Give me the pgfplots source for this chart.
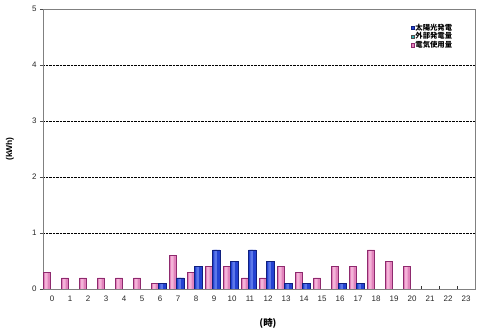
\documentclass[border=0pt]{standalone}
\usepackage{fontspec}
\setmainfont{Liberation Sans}
\newfontfamily\jp{Noto Sans CJK JP}
\usepackage{pgfplots}
\pgfplotsset{compat=1.18}
\definecolor{sunblue}{HTML}{2443D2}
\definecolor{sunblueL}{HTML}{5C78EA}
\definecolor{sunblueD}{HTML}{10207E}
\definecolor{pinkbar}{HTML}{E283BC}
\definecolor{pinkL}{HTML}{F4B3D8}
\definecolor{pinkD}{HTML}{8E2A6E}
\definecolor{tealc}{HTML}{30B0B0}
\pgfplotstableread{
x y
0 0.3
1 0.2
2 0.2
3 0.2
4 0.2
5 0.2
6 0.1
7 0.6
8 0.3
9 0.4
10 0.4
11 0.2
12 0.2
13 0.4
14 0.3
15 0.2
16 0.4
17 0.4
18 0.7
19 0.5
20 0.4
}\usage
\pgfplotstableread{
x y
6 0.1
7 0.2
8 0.4
9 0.7
10 0.5
11 0.7
12 0.5
13 0.1
14 0.1
16 0.1
17 0.1
}\solar
\begin{document}
\begin{tikzpicture}
\begin{axis}[
  scale only axis, width=432bp, height=280bp,
  xmin=-0.5, xmax=23.5, ymin=0, ymax=5,
  xtick={0,...,23}, ytick={0,...,5},
  minor xtick={-0.5,0.5,...,23.5},
  major x tick style={draw=none},
  minor x tick style={yshift=2.5bp, black!80},
  minor tick length=2.5bp,
  major tick length=3bp,
  tick align=outside, tick pos=left,
  y tick style={black!70},
  axis line style={gray, line width=0.6pt},
  ymajorgrids, grid style={densely dotted, black, line width=0.4pt},
  tick label style={font=\fontsize{8}{9}\selectfont, text=black!85},
  /pgf/number format/assume math mode=true,
  xlabel={\jp\bfseries (時)},
  ylabel={\bfseries (kWh)},
  every axis x label/.style={at={(rel axis cs:0.5,0)}, yshift=-34bp, xshift=9bp, anchor=center, font=\fontsize{9.5}{11}\selectfont},
  every axis y label/.style={at={(rel axis cs:0,0.5)}, xshift=-33bp, rotate=90, anchor=center, font=\fontsize{8.5}{10}\selectfont},
  legend style={at={(0.957,0.958)}, anchor=north east, draw=none, fill=none,
    font=\jp\bfseries\fontsize{7.4}{8}\selectfont, row sep=-1.2bp,
    nodes={inner sep=1bp}},
  legend cell align=left,
]
\addlegendimage{legend image code/.code={\draw[draw=sunblueD, fill=sunblue, line width=0.3pt] (1bp,-1.7bp) rectangle (4.4bp,1.7bp);}}
\addlegendentry{太陽光発電}
\addlegendimage{legend image code/.code={\draw[draw=black!70, fill=tealc, line width=0.3pt] (1bp,-1.7bp) rectangle (4.4bp,1.7bp);}}
\addlegendentry{外部発電量}
\addlegendimage{legend image code/.code={\draw[draw=pinkD, fill=pinkbar, line width=0.3pt] (1bp,-1.7bp) rectangle (4.4bp,1.7bp);}}
\addlegendentry{電気使用量}
% 電気使用量 (pink)
\addplot[forget plot, ybar, bar width=7.2bp, bar shift=-5bp, draw=none, fill=pinkbar] table {\usage};
\addplot[forget plot, ybar, bar width=2.6bp, bar shift=-5.6bp, draw=none, fill=pinkL] table {\usage};
\addplot[forget plot, ybar, bar width=7.2bp, bar shift=-5bp, draw=pinkD, line width=0.5pt, fill=none] table {\usage};
% 太陽光発電 (blue)
\addplot[forget plot, ybar, bar width=7.2bp, bar shift=2.2bp, draw=none, fill=sunblue] table {\solar};
\addplot[forget plot, ybar, bar width=2.4bp, bar shift=1.6bp, draw=none, fill=sunblueL] table {\solar};
\addplot[forget plot, ybar, bar width=7.2bp, bar shift=2.2bp, draw=sunblueD, line width=0.5pt, fill=none] table {\solar};
\end{axis}
\path ([xshift=-43bp,yshift=-42bp]current axis.south west) rectangle ([xshift=5bp,yshift=9bp]current axis.north east);
\end{tikzpicture}
\end{document}
